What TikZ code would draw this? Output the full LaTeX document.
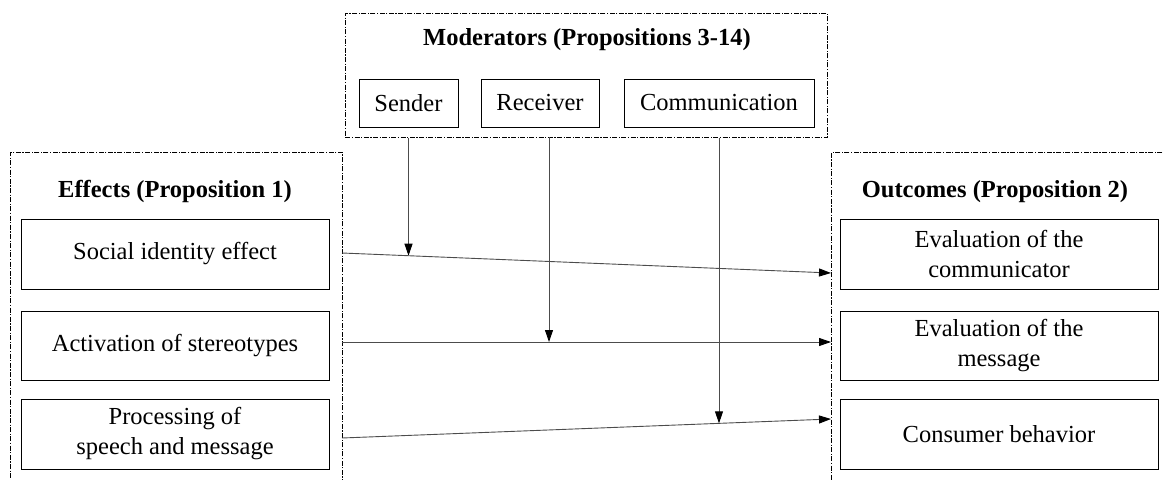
\documentclass[tikz,border=0pt]{standalone}
\usepackage{fontspec}
\setmainfont{Liberation Serif}
\usetikzlibrary{arrows.meta,calc}
\tikzset{
  container/.style={draw, line width=0.9pt, dash pattern=on 5pt off 1.5pt on 1.2pt off 1.5pt, inner sep=0pt},
  box/.style={draw, line width=1pt, inner sep=0pt, align=center, font=\fontsize{24.5}{30}\selectfont},
  ttl/.style={font=\fontsize{24.5}{30}\selectfont\bfseries, inner sep=0pt, anchor=base},
  conn/.style={draw=black!70, line width=0.9pt, -{Triangle[length=12pt,width=8pt,color=black]}}
}
\begin{document}
\begin{tikzpicture}[x=1pt,y=-1pt]
\useasboundingbox (0,0) rectangle (1164,479);
\begin{scope}
\clip (0,0) rectangle (1164,479);
% containers
\node[container, minimum width=482pt, minimum height=124pt, anchor=north west] (moderators) at (345,13) {};
\node[container, minimum width=332pt, minimum height=340pt, anchor=north west] (effects) at (10,152) {};
\node[container, minimum width=345pt, minimum height=340pt, anchor=north west] (outcomes) at (831,152) {};
% titles
\node[ttl] (tmod) at (587,45) {Moderators (Propositions 3-14)};
\node[ttl] (teff) at (175,197) {Effects (Proposition 1)};
\node[ttl] (tout) at (995,197) {Outcomes (Proposition 2)};
% moderator boxes
\node[box, minimum width=99pt, minimum height=48pt] (sender) at (408.5,103) {Sender};
\node[box, minimum width=118pt, minimum height=48pt] (receiver) at (540,103) {Receiver};
\node[box, minimum width=190pt, minimum height=48pt] (comm) at (719,103) {Communication};
% effect boxes
\node[box, minimum width=308pt, minimum height=70pt] (social) at (175,254) {Social identity effect};
\node[box, minimum width=308pt, minimum height=69pt] (activ) at (175,345.5) {Activation of stereotypes};
\node[box, minimum width=308pt, minimum height=70pt] (proc) at (175,434) {Processing of\\speech and message};
% outcome boxes
\node[box, minimum width=318pt, minimum height=70pt] (evcomm) at (999,254) {Evaluation of the\\communicator};
\node[box, minimum width=318pt, minimum height=69pt] (evmsg) at (999,345.5) {Evaluation of the\\message};
\node[box, minimum width=318pt, minimum height=70pt] (cons) at (999,434) {Consumer behavior};
% connector end points
\coordinate (a1) at (342,253);
\coordinate (b1) at (831,273);
\coordinate (a2) at (342,342);
\coordinate (b2) at (831,342);
\coordinate (a3) at (342,438);
\coordinate (b3) at (831,419);
\draw[conn] (a1) -- (b1);
\draw[conn] (a2) -- (b2);
\draw[conn] (a3) -- (b3);
% moderator arrows
\coordinate (m1) at (moderators.south -| sender);
\coordinate (m2) at (549,137);
\coordinate (m3) at (moderators.south -| comm);
\coordinate (p1) at ($(a1)!0.136!(b1)$);
\coordinate (p2) at ($(a2)!0.423!(b2)$);
\coordinate (p3) at ($(a3)!0.771!(b3)$);
\draw[conn] (m1) -- (m1 |- p1);
\draw[conn] (m2) -- (m2 |- p2);
\draw[conn] (m3) -- (m3 |- p3);
\end{scope}
\end{tikzpicture}
\end{document}
